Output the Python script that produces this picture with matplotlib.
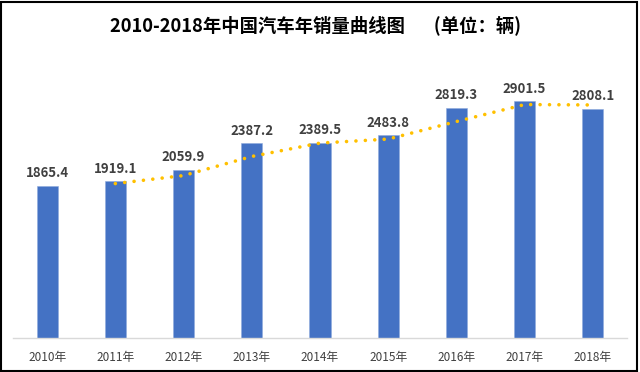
import matplotlib
matplotlib.use('Agg')
import matplotlib.pyplot as plt
from matplotlib.patches import Rectangle

plt.rcParams['font.family'] = ['Noto Sans CJK SC', 'DejaVu Sans']

years = ['2010年', '2011年', '2012年', '2013年', '2014年',
         '2015年', '2016年', '2017年', '2018年']
sales = [1865.4, 1919.1, 2059.9, 2387.2, 2389.5, 2483.8, 2819.3, 2901.5, 2808.1]
# dotted trend line (2-period moving average), 2011-2018
trend = [1892, 1990, 2224, 2388, 2437, 2652, 2860, 2855]

fig = plt.figure(figsize=(6.4, 3.72), dpi=100)
ax = fig.add_axes([13 / 640, 1 - 338 / 372, 614 / 640, 0.768])

x = list(range(len(years)))
ax.bar(x, sales, width=0.31, color='#4472C4', edgecolor='#8FAADC', linewidth=0.4)
ax.plot(x[1:], trend, color='#FFC000', linewidth=2.6,
        linestyle=(0, (0.01, 2.6)), dash_capstyle='round')

for i, v in enumerate(sales):
    ax.annotate('%.1f' % v, (i, v), xytext=(0, 4), textcoords='offset points',
                ha='center', va='bottom', fontsize=9.5, fontweight='bold',
                color='#404040')

ax.set_xlim(-0.5, len(years) - 0.5)
ax.set_ylim(0, 3500)
ax.set_xticks(x)
ax.set_xticklabels(years, fontsize=8.5, color='#404040')
ax.tick_params(axis='x', length=0, pad=9)
ax.set_yticks([])
for s in ['top', 'right', 'left']:
    ax.spines[s].set_visible(False)
ax.spines['bottom'].set_color('#D9D9D9')
ax.spines['bottom'].set_linewidth(1)

fig.text(315 / 640, 1 - 25 / 372, '2010-2018年中国汽车年销量曲线图       (单位：辆)',
         ha='center', va='center', fontsize=13.2, fontweight='bold', color='black')

fig.patches.append(Rectangle((1 / 640, 1 / 372), 636 / 640, 369 / 372,
                             transform=fig.transFigure, fill=False,
                             edgecolor='black', linewidth=1.5))

fig.savefig('out.png', dpi=100)
